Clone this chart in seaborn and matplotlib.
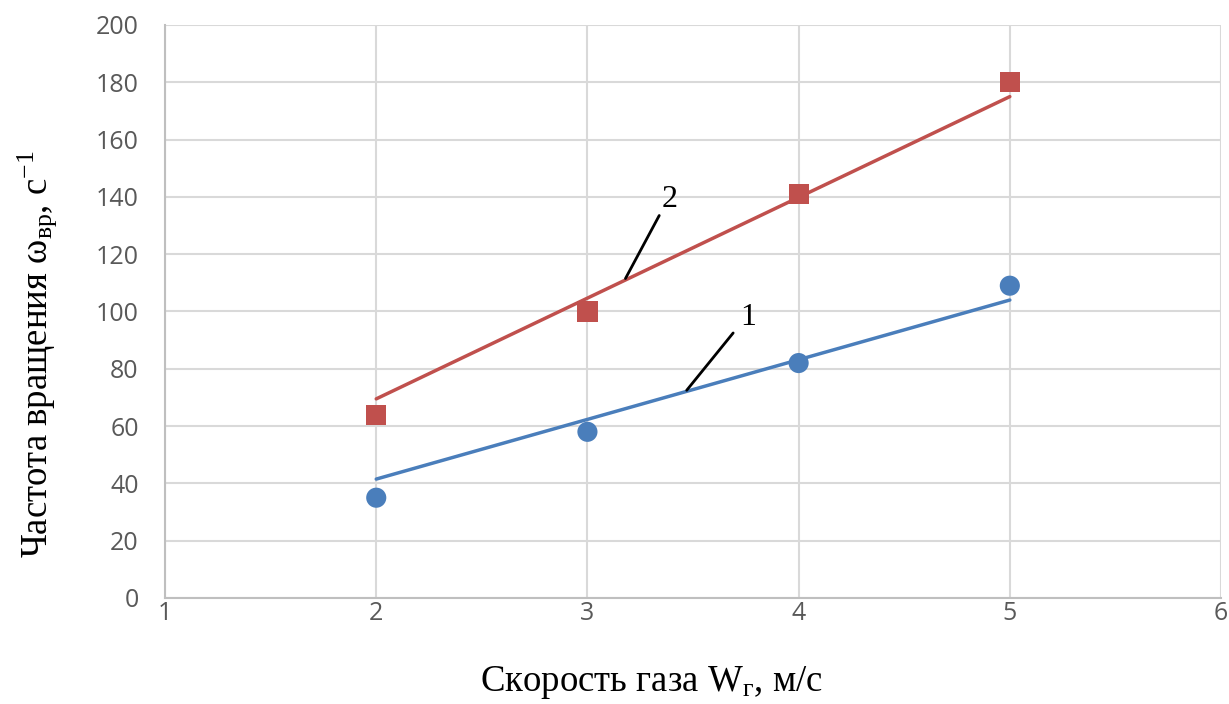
import numpy as np
import pandas as pd
import matplotlib
matplotlib.use("Agg")
import matplotlib.pyplot as plt
import seaborn as sns

# measured points
speed = [2, 3, 4, 5]
omega_1 = [35, 58, 82, 109]
omega_2 = [64, 100, 141, 180]

# trend lines (endpoints)
trend_x = [2, 5]
trend_1 = [41.5, 104]
trend_2 = [69.5, 175]

# callout leaders: (x0, y0, x1, y1) and label position
lead_1 = [3.47, 72.5, 3.69, 92.5]
lead_2 = [3.18, 111.5, 3.34, 133.5]
label_1 = (3.76, 98)
label_2 = (3.39, 139)

BLUE = "#4A7EBB"
RED = "#C0504D"
GRID = "#D9D9D9"

sns.set_theme(style="white")
plt.rcParams["font.family"] = ["Open Sans", "DejaVu Sans"]
plt.rcParams["mathtext.fontset"] = "custom"
plt.rcParams["mathtext.rm"] = "Liberation Serif"
plt.rcParams["mathtext.it"] = "Liberation Serif:italic"

points = pd.DataFrame({
    "speed": speed + speed,
    "omega": omega_1 + omega_2,
    "series": ["1"] * len(speed) + ["2"] * len(speed),
})
trends = pd.DataFrame({
    "speed": trend_x + trend_x,
    "omega": trend_1 + trend_2,
    "series": ["1"] * 2 + ["2"] * 2,
})
palette = {"1": BLUE, "2": RED}

fig = plt.figure(figsize=(12.29, 7.04), dpi=100)
ax = fig.add_axes([0.1343, 0.1506, 0.8592, 0.8139])

sns.lineplot(data=trends, x="speed", y="omega", hue="series", palette=palette,
             linewidth=2.5, legend=False, ax=ax, zorder=3)
sns.scatterplot(data=points, x="speed", y="omega", hue="series", style="series",
                markers={"1": "o", "2": "s"}, palette=palette, s=210,
                linewidth=0, legend=False, ax=ax, zorder=4)

for (x0, y0, x1, y1), (tx, ty), txt in [(lead_1, label_1, "1"), (lead_2, label_2, "2")]:
    ax.plot([x0, x1], [y0, y1], color="black", linewidth=2, zorder=5)
    ax.text(tx, ty, txt, fontsize=23, family="Liberation Serif", color="black",
            ha="center", va="center", zorder=5)

ax.set_xlim(1, 6)
ax.set_ylim(0, 200)
ax.set_xticks(range(1, 7))
ax.set_yticks(range(0, 201, 20))
ax.grid(True, color=GRID, linewidth=1.5)
ax.set_axisbelow(True)
ax.tick_params(length=0, labelsize=18, labelcolor="#595959")
ax.tick_params(axis="y", pad=19)
ax.tick_params(axis="x", pad=2)
for side in ["top", "right"]:
    ax.spines[side].set_visible(False)
for side in ["left", "bottom"]:
    ax.spines[side].set_color("#BFBFBF")
    ax.spines[side].set_linewidth(1.5)
ax.set_xlabel("")
ax.set_ylabel("")

fig.text(0.030, 0.497, "Частота вращения ω$_{\\mathrm{вр}}$, с$^{-1}$",
         rotation=90, ha="center", va="center", fontsize=26.5,
         family="Liberation Serif", color="black")
fig.text(0.530, 0.030, "Скорость газа W$_{\\mathrm{г}}$, м/с",
         ha="center", va="center", fontsize=26.5, family="Liberation Serif",
         color="black")

fig.savefig("out.png", dpi=100)
